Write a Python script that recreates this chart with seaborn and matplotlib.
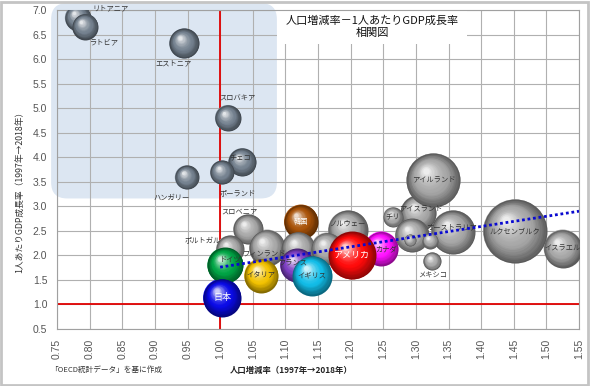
import numpy as np
import pandas as pd
import matplotlib
matplotlib.use("Agg")
import matplotlib.pyplot as plt
import matplotlib.transforms as mtransforms
from matplotlib.patches import FancyBboxPatch, Rectangle
from matplotlib.colors import to_rgb
import seaborn as sns

# ---------------- data ----------------
countries = ["リトアニア", "ラトビア", "エストニア", "スロバキア", "ハンガリー", "チェコ", "ポーランド",
             "アイスランド", "アイルランド", "チリ", "オーストラリア", "他A", "他B", "他C",
             "メキシコ", "ルクセンブルク", "イスラエル",
             "スロベニア", "韓国", "ノルウェー", "ポルトガル", "フィンランド", "他D", "他E",
             "ドイツ", "日本", "イタリア", "フランス", "イギリス", "カナダ", "アメリカ"]
pop_rate = [0.782, 0.793, 0.945, 1.012, 0.949, 1.034, 1.003,
            1.304, 1.327, 1.265, 1.357, 1.294, 1.291, 1.322,
            1.325, 1.452, 1.525,
            1.043, 1.124, 1.196, 1.015, 1.072, 1.120, 1.164,
            1.008, 1.003, 1.063, 1.118, 1.141, 1.247, 1.202]
gdp_rate = [6.84, 6.66, 6.32, 4.80, 3.59, 3.90, 3.69,
            2.86, 3.53, 2.78, 2.47, 2.41, 2.31, 2.30,
            1.88, 2.49, 2.14,
            2.53, 2.69, 2.51, 2.12, 2.16, 2.14, 2.14,
            1.80, 1.14, 1.59, 1.80, 1.59, 2.14, 2.00]
bubble = [13, 13, 15, 13, 12, 14, 12,
          18, 27, 10, 22, 17, 6, 8,
          9, 32, 19,
          15, 17, 20, 14, 18, 17, 16,
          18, 19, 17, 17, 20, 17, 24]
group = ["east"] * 7 + ["other"] * 17 + ["jp", "jp", "jp", "jp", "jp", "jp", "jp"]
trend_x = [1.00, 1.55]
trend_y = [1.76, 2.90]
x_ticks = [0.75, 0.80, 0.85, 0.90, 0.95, 1.00, 1.05, 1.10, 1.15, 1.20,
           1.25, 1.30, 1.35, 1.40, 1.45, 1.50, 1.55]
y_ticks = [0.5, 1.0, 1.5, 2.0, 2.5, 3.0, 3.5, 4.0, 4.5, 5.0, 5.5, 6.0, 6.5, 7.0]

# ---------------- styles ----------------
special_colors = {"韓国": "#a85208", "ドイツ": "#00a545", "日本": "#0a0ae6", "イタリア": "#f2c200",
                  "フランス": "#7e3fc4", "イギリス": "#12bde8", "カナダ": "#ff10ff", "アメリカ": "#ff0a0a"}
white_label = {"韓国", "日本", "アメリカ"}
# label offsets in pixels (dx, dy up)
label_off = {"リトアニア": (33, 9), "ラトビア": (18, -16), "エストニア": (-11, -20),
             "スロバキア": (9, 20), "チェコ": (-2, 4), "ポーランド": (16, -21), "ハンガリー": (-15, -20),
             "スロベニア": (-9, 18), "ポルトガル": (-27, 8), "フィンランド": (-2, -6), "ドイツ": (5, 4),
             "フランス": (-4, 2), "カナダ": (5, -1), "ノルウェー": (0, 7), "アイスランド": (2, 4),
             "オーストラリア": (-1, 5), "メキシコ": (0, -14)}

def color_for(name, grp):
    if name in special_colors:
        return special_colors[name]
    return "#74818f" if grp == "east" else "#a6a6a6"

df = pd.DataFrame({"country": countries, "x": pop_rate, "y": gdp_rate, "r": bubble, "g": group})
df["color"] = [color_for(c, g) for c, g in zip(df.country, df.g)]

sns.set_style("white")
plt.rcParams["font.family"] = ["Noto Sans CJK JP", "DejaVu Sans"]

DPI = 100
fig = plt.figure(figsize=(5.9, 3.86), dpi=DPI)
W, H = 590, 386
ax = fig.add_axes([57 / W, 1 - 329 / H, (579 - 57) / W, (329 - 10) / H])
ax.set_xlim(0.75, 1.55)
ax.set_ylim(0.5, 7.0)

# base layer via seaborn
sizes = [(2 * r * 72 / DPI) ** 2 for r in df.r]
sns.scatterplot(data=df, x="x", y="y", hue="country",
                palette=dict(zip(df.country, df.color)), s=sizes,
                linewidth=0, legend=False, ax=ax, zorder=3)

def sphere(x, y, r, base):
    b = np.array(to_rgb(base))
    dark = b * 0.55
    light = b + (1 - b) * 0.8
    n = 22
    for k in range(n):
        t = k / (n - 1)
        rk = r * (1 - 0.88 * t)
        off = 0.36 * r * t
        if t < 0.4:
            c = dark + (b - dark) * (t / 0.4)
        else:
            c = b + (light - b) * ((t - 0.4) / 0.6) ** 1.6
        tr = mtransforms.offset_copy(ax.transData, fig=fig, x=-off * 0.8, y=off, units="dots")
        ax.scatter([x], [y], s=(2 * rk * 72 / DPI) ** 2, color=np.clip(c, 0, 1),
                   transform=tr, linewidths=0, zorder=3)

for _, row in df.iterrows():
    sphere(row.x, row.y, row.r, row.color)
    if row.country.startswith("他"):
        continue
    dx, dy = label_off.get(row.country, (0, 0))
    tc = "white" if row.country in white_label else "#333333"
    fs = 6.5 if row.country in ("日本", "アメリカ") else 5.2
    ax.annotate(row.country, (row.x, row.y), xytext=(dx, dy), textcoords="offset pixels",
                ha="center", va="center", fontsize=fs, color=tc, zorder=4)

# trend line
ax.plot(trend_x, trend_y, color="#0a0ad0", lw=2.0, ls=(0, (1, 1)), zorder=6)

# reference lines
ax.axvline(1.0, color="#e00000", lw=1.3, zorder=2)
ax.axhline(1.0, color="#e00000", lw=1.3, zorder=2)

# grid / ticks
ax.set_axisbelow(True)
ax.grid(True, color="#b0b0b0", lw=0.8)
ax.set_xticks(x_ticks)
ax.set_yticks(y_ticks)
ax.set_xticklabels([f"{v:.2f}" for v in x_ticks], rotation=90)
ax.set_yticklabels([f"{v:.1f}" for v in y_ticks])
ax.tick_params(axis="both", length=4, width=0.8, color="#888888", labelcolor="#555555",
               labelsize=7.5, direction="out", pad=3)
for lab in ax.get_xticklabels() + ax.get_yticklabels():
    lab.set_family(["Liberation Sans", "DejaVu Sans"])
for s in ax.spines.values():
    s.set_color("#a0a0a0")
    s.set_linewidth(0.8)
ax.set_xlabel("")
ax.set_ylabel("")

# blue rounded area (drawn in pixels)
fig.canvas.draw()
(x0, y0) = ax.transData.transform((0.741, 3.16))
(x1, y1) = ax.transData.transform((1.087, 7.14))
box = FancyBboxPatch((x0, y0), x1 - x0, y1 - y0, boxstyle="round,pad=0,rounding_size=16",
                     transform=mtransforms.IdentityTransform(), fc="#dce6f2", ec="none",
                     zorder=0.3, clip_on=False)
ax.add_patch(box)

# white title box
ax.add_patch(Rectangle((1.087, 6.31), 1.379 - 1.087, 7.0 - 6.31, fc="white", ec="none", zorder=1))
fig.text(372 / W, 1 - 27 / H, "人口増減率－1人あたりGDP成長率\n相関図", ha="center", va="center",
         fontsize=8, color="#111111", linespacing=1.25)

# axis labels and source
fig.text(20 / W, 1 - 190 / H, "1人あたりGDP成長率（1997年→2018年）", rotation=90,
         ha="center", va="center", fontsize=6.3, color="#333333")
fig.text(291 / W, 1 - 370 / H, "人口増減率（1997年→2018年）", ha="center", va="center",
         fontsize=6, fontweight="bold", color="#222222")
fig.text(50 / W, 1 - 370 / H, "「OECD統計データ」を基に作成", ha="left", va="center",
         fontsize=5.5, color="#333333")

# outer frame
fig.patches.append(Rectangle((0.002, 0.003), 0.995, 0.993, transform=fig.transFigure,
                             fill=False, ec="#c4c4c4", lw=2))

fig.savefig("out.png", dpi=DPI)
